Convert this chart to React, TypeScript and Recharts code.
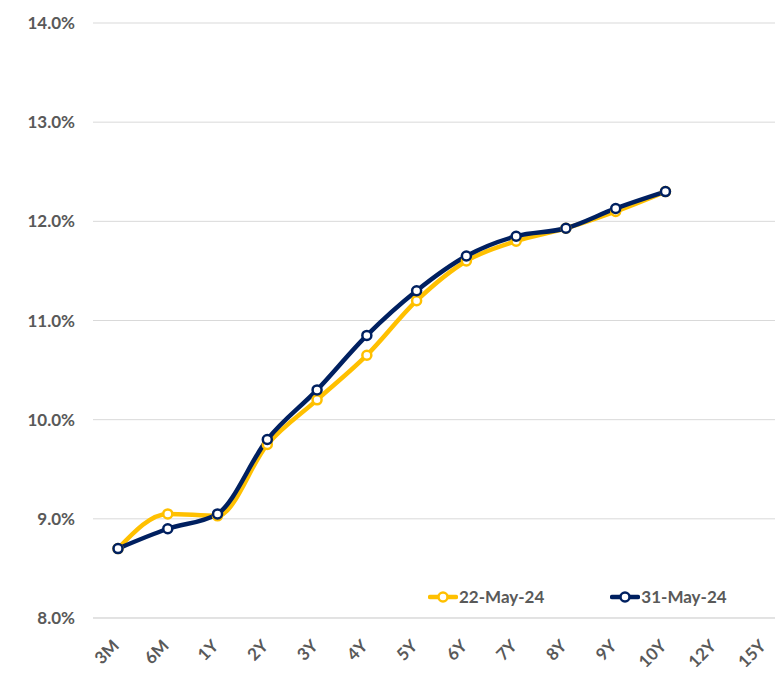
import { LineChart, Line, XAxis, YAxis, CartesianGrid } from 'recharts';

const tenors = ['3M', '6M', '1Y', '2Y', '3Y', '4Y', '5Y', '6Y', '7Y', '8Y', '9Y', '10Y', '12Y', '15Y'];
const may22 = [8.7, 9.05, 9.03, 9.75, 10.2, 10.65, 11.2, 11.6, 11.8, 11.93, 12.1, 12.3, null, null];
const may31 = [8.7, 8.9, 9.05, 9.8, 10.3, 10.85, 11.3, 11.65, 11.85, 11.93, 12.13, 12.3, null, null];
const yTicks = [8, 9, 10, 11, 12, 13, 14];

const seriesInfo = [
  { key: 'may22', name: '22-May-24', color: '#FFC000' },
  { key: 'may31', name: '31-May-24', color: '#002060' },
];

const data = tenors.map((t, i) => ({ tenor: t, may22: may22[i], may31: may31[i] }));

const FONT = 'Lato, "Open Sans", sans-serif';
const GREY = '#595959';

function XTick({ x, y, payload }: any) {
  return (
    <g transform={`translate(${x + 2},${y + 21})`}>
      <text
        x={0}
        y={0}
        textAnchor="end"
        transform="rotate(-45)"
        fill={GREY}
        fontSize={17}
        fontWeight={700}
        fontFamily={FONT}
      >
        {payload.value}
      </text>
    </g>
  );
}

function LegendBox() {
  return (
    <div
      style={{
        position: 'absolute',
        left: 420,
        top: 580,
        display: 'flex',
        gap: 66,
        fontFamily: FONT,
        fontSize: 17,
        fontWeight: 700,
        color: GREY,
        lineHeight: '18px',
      }}
    >
      {seriesInfo.map((s) => (
        <div key={s.key} style={{ display: 'flex', alignItems: 'center' }}>
          <svg width={30} height={14} style={{ marginRight: 1 }}>
            <line x1={2} y1={7} x2={28} y2={7} stroke={s.color} strokeWidth={4.5} strokeLinecap="round" />
            <circle cx={15} cy={7} r={4.5} fill="#fff" stroke={s.color} strokeWidth={2.5} />
          </svg>
          <span>{s.name}</span>
        </div>
      ))}
    </div>
  );
}

export default function App() {
  return (
    <div style={{ position: 'relative', width: 775, height: 669, overflow: 'hidden', background: '#fff' }}>
      <LineChart width={782} height={669} data={data} margin={{ top: 15, right: 0, bottom: 9, left: 0 }}>
        <CartesianGrid horizontal vertical={false} stroke="#d9d9d9" strokeWidth={1} />
        <XAxis
          dataKey="tenor"
          interval={0}
          tick={<XTick />}
          tickLine={false}
          axisLine={{ stroke: '#d9d9d9' }}
          padding={{ left: 25, right: 25 }}
          height={50}
        />
        <YAxis
          domain={[8, 14]}
          ticks={yTicks}
          width={85}
          tickLine={false}
          axisLine={false}
          tickMargin={12}
          tickFormatter={(v: number) => `${v.toFixed(1)}%`}
          tick={{ fill: GREY, fontSize: 17, fontWeight: 700, fontFamily: FONT }}
        />
        {seriesInfo.map((s) => (
          <Line
            key={s.key}
            type="monotone"
            dataKey={s.key}
            name={s.name}
            stroke={s.color}
            strokeWidth={4.5}
            dot={{ r: 4.5, fill: '#fff', stroke: s.color, strokeWidth: 2.5 }}
            activeDot={false}
            connectNulls={false}
            isAnimationActive={false}
          />
        ))}
      </LineChart>
      <LegendBox />
    </div>
  );
}
